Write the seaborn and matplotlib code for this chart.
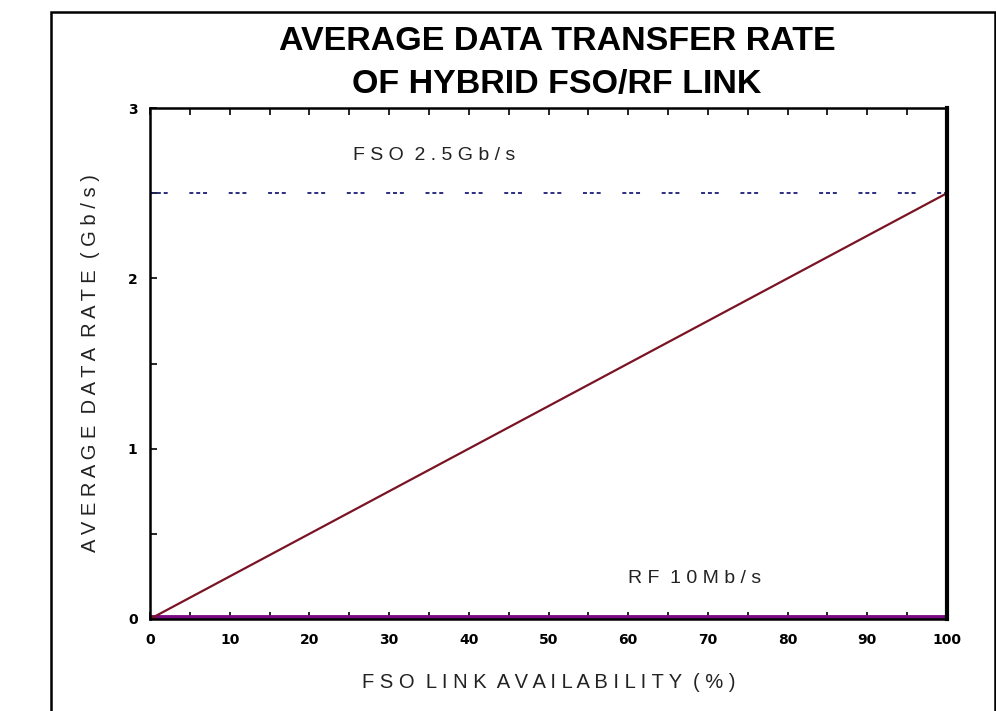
import matplotlib
matplotlib.use("Agg")
import matplotlib.pyplot as plt
import seaborn as sns
import pandas as pd
from matplotlib.patches import Rectangle
from matplotlib.ticker import MultipleLocator

sns.set_theme(style="white")
plt.rcParams['font.family'] = ['Liberation Sans', 'DejaVu Sans']

# Data
availability = [0, 100]                 # FSO link availability (%)
hybrid_rate = [0.0, 2.5]                # average data rate of hybrid link (Gb/s)
fso_rate = [2.5, 2.5]                   # FSO 2.5 Gb/s
rf_rate = [0.01, 0.01]                  # RF 10 Mb/s
x_ticks = [0, 10, 20, 30, 40, 50, 60, 70, 80, 90, 100]
y_ticks = [0, 1, 2, 3]

df = pd.DataFrame({"x": availability, "hybrid": hybrid_rate, "fso": fso_rate, "rf": rf_rate})

fig = plt.figure(figsize=(9.96, 7.11), dpi=100)
ax = fig.add_axes([150/996, 1-619/711, (947-150)/996, (619-108)/711])

sns.lineplot(data=df, x="x", y="fso", ax=ax, color="#1c1c78", linewidth=1.3,
             linestyle=(0, (2.2, 1.6, 2.2, 1.6, 2.2, 12)))
sns.lineplot(data=df, x="x", y="rf", ax=ax, color="#7a0a82", linewidth=3.5)
sns.lineplot(data=df, x="x", y="hybrid", ax=ax, color="#7a1424", linewidth=1.6)

ax.set_xlim(0, 100)
ax.set_ylim(0, 3)
ax.set_xticks(x_ticks)
ax.set_yticks(y_ticks)
ax.xaxis.set_minor_locator(MultipleLocator(5))
ax.yaxis.set_minor_locator(MultipleLocator(0.5))
ax.tick_params(axis='x', which='both', direction='in', top=True, bottom=True,
               length=5, width=1.2, color='black', labelsize=10, pad=10)
ax.tick_params(axis='y', which='both', direction='in', left=True, right=False,
               length=5, width=1.2, color='black', labelsize=10, pad=9)
for lab in ax.get_xticklabels() + ax.get_yticklabels():
    lab.set_fontweight('bold')
    lab.set_family(['DejaVu Sans'])
    lab.set_color('black')

for s in ['left', 'top', 'bottom']:
    ax.spines[s].set_color('black')
    ax.spines[s].set_linewidth(1.8)
ax.spines['right'].set_color('black')
ax.spines['right'].set_linewidth(3)

ax.set_xlabel("F S O  L I N K  A V A I L A B I L I T Y  ( % )", fontsize=14.5, color='#222222', labelpad=19)
ax.set_ylabel("A V E R A G E  D A T A  R A T E  ( G b / s )", fontsize=14.5, color='#222222', labelpad=20)

ax.text(25.5, 2.72, "F S O  2 . 5 G b / s", fontsize=14, color='#222222', va='center', ha='left')
ax.text(60.0, 0.24, "R F  1 0 M b / s", fontsize=14, color='#222222', va='center', ha='left')

fig.text(557/996, 1-41/711, "AVERAGE DATA TRANSFER RATE", ha='center', va='center',
         fontsize=24.5, fontweight='bold', color='black')
fig.text(557/996, 1-84/711, "OF HYBRID FSO/RF LINK", ha='center', va='center',
         fontsize=24.5, fontweight='bold', color='black')

fig.patches.append(Rectangle((51/996, -0.02), (995-51)/996, 1.02-12/711, transform=fig.transFigure,
                             fill=False, edgecolor='black', linewidth=1.8))

fig.savefig("out.png", dpi=100)
